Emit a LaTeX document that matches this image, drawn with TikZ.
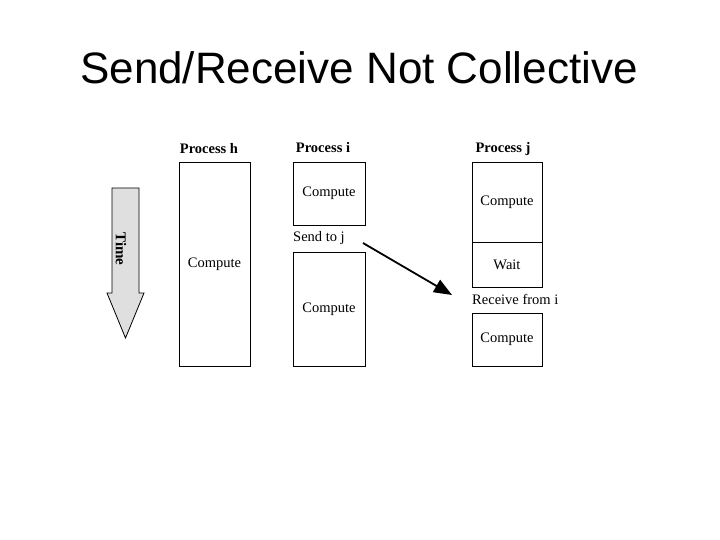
\documentclass[tikz,border=0pt]{standalone}
\usepackage{fontspec}
\setmainfont{Liberation Serif}
\newfontfamily\titlefont{Liberation Sans}
\usetikzlibrary{arrows.meta}

\begin{document}
\begin{tikzpicture}[x=1pt, y=-1pt, font=\fontsize{14.5}{16}\selectfont,
  box/.style={draw, line width=0.8pt, inner sep=0pt},
  proclabel/.style={font=\fontsize{14.5}{16}\selectfont\bfseries}]
\useasboundingbox (0,0) rectangle (720,540);
\node[font=\titlefont\fontsize{44}{50}\selectfont] (title) at (359,68) {Send/Receive Not Collective};

% time axis
\draw[line width=0.8pt, fill=gray!25] (112,188) -- (139,188) -- (139,293) -- (144,293)
  -- (125.5,338) -- (107,293) -- (112,293) -- cycle;
\node[rotate=-90, font=\fontsize{15}{16}\selectfont\bfseries] (time) at (121,249) {Time};

% process columns
\foreach \name/\x/\y/\w/\h/\txt in {hbox/214.5/264/71/204/Compute,
    ibox1/329/193.5/72/63/Compute, ibox2/329/309/72/114/Compute,
    jbox1/507/202/70/80/Compute, jwait/507/264.5/70/45/Wait,
    jbox2/507/339.5/70/53/Compute} {
  \node[box, minimum width=\w, minimum height=\h] (\name) at (\x,\y) {\txt};
}
\node[proclabel] (hlab) at (209,149) {Process h};
\node[proclabel] (ilab) at (323,148) {Process i};
\node[proclabel] (jlab) at (503,149) {Process j};

\node[anchor=west, inner sep=0pt] (sendlab) at (293,238) {Send to j};
\node[anchor=west, inner sep=0pt] (recvlab) at (472,299) {Receive from i};

% message
\coordinate (sendpt) at (363,243);
\coordinate (recvpt) at (452,295);
\draw[line width=1.8pt, -{Triangle[length=18pt,width=14pt]}] (sendpt) -- (recvpt);
\end{tikzpicture}
\end{document}
